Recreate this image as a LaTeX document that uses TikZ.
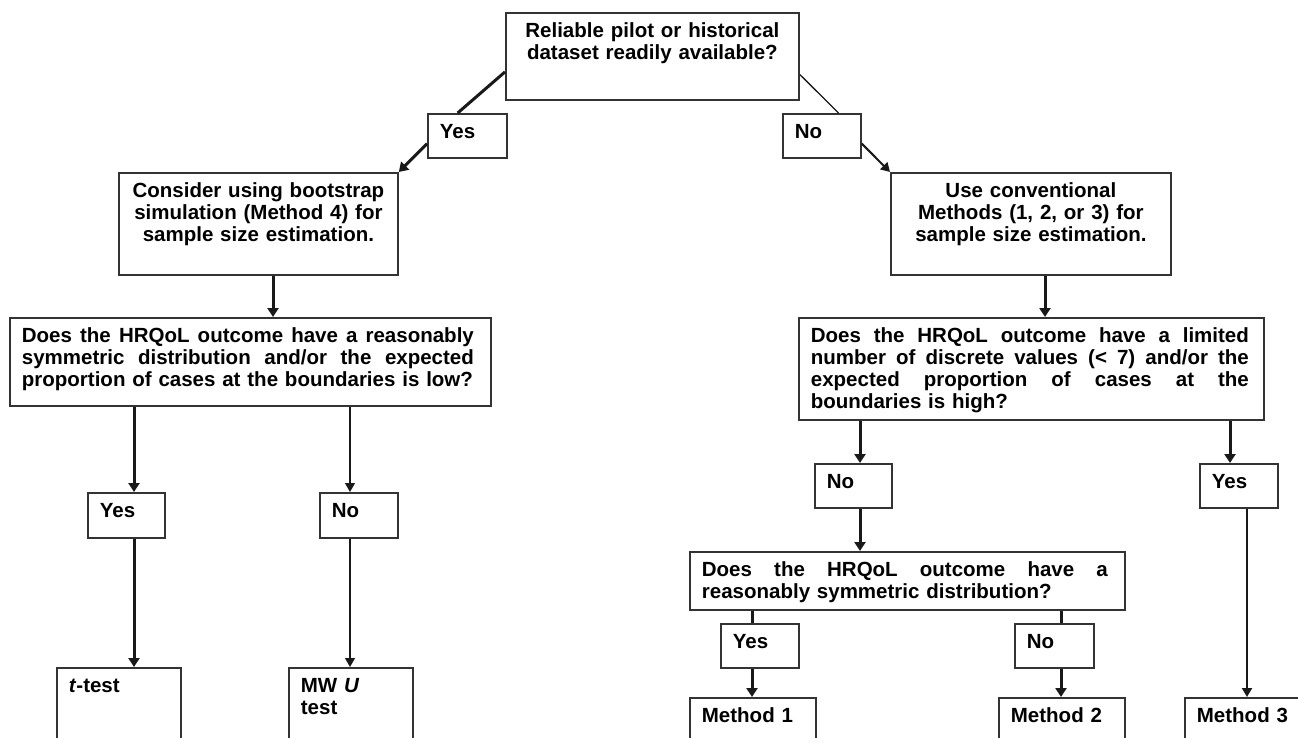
\documentclass[tikz,border=0pt]{standalone}
\usepackage{fontspec}
\setmainfont{Liberation Sans}
\usetikzlibrary{arrows.meta}
\newcommand{\fullline}[2]{\makebox[#1][s]{\spaceskip=0.278em plus 1fil\relax #2}}

\begin{document}
\begin{tikzpicture}[x=1pt,y=-1pt,
	box/.style={draw=\BOXCOLOR,line width=1.8pt,anchor=north west,inner xsep=12pt,inner ysep=0pt,
		text height=25pt,align=left,font=\fontsize{20.5pt}{22pt}\selectfont\bfseries},
	heavyline/.style={draw=\LINECOLOR,line width=3pt},
	lightline/.style={draw=\LINECOLOR,line width=1.3pt},
	heavyarrow/.style={heavyline,-{Triangle[length=9pt,width=11pt]}},
	midarrow/.style={draw=\LINECOLOR,line width=2pt,-{Triangle[length=9pt,width=10pt]}},
	lightarrow/.style={lightline,-{Triangle[length=9pt,width=10pt]}}]
    
\def\BOXCOLOR{black!80}
\def\LINECOLOR{black!90}
	\useasboundingbox (0,0) rectangle (1298,738);
	\clip (0,0) rectangle (1298,738);

	\node[box,align=center,text width=269pt,text depth=62pt] (pilot) at (505,12) {Reliable pilot or historical\\dataset readily available?};
	\node[box,text width=55pt,text depth=19pt] (yesA) at (427,113) {Yes};
	\node[box,text width=54pt,text depth=19pt] (noA) at (782,113) {No};
	\node[box,align=center,text width=255pt,text depth=77pt] (boot) at (118,172) {Consider using bootstrap\\simulation (Method 4) for\\sample size estimation.};
	\node[box,align=center,text width=256pt,text depth=77pt] (conv) at (890,172) {Use conventional\\Methods (1, 2, or 3) for\\sample size estimation.};
	\node[box,text width=457pt,text depth=63pt] (symL) at (9,317) {\fullline{452pt}{Does the HRQoL outcome have a reasonably}\\\fullline{452pt}{symmetric distribution and/or the expected}\\proportion of cases at the boundaries is low?};
	\node[box,text width=441pt,text depth=77pt] (discR) at (798,317) {\fullline{438pt}{Does the HRQoL outcome have a limited}\\\fullline{438pt}{number of discrete values (< 7) and/or the}\\\fullline{438pt}{expected proportion of cases at the}\\boundaries is high?};
	\node[box,text width=53pt,text depth=20pt] (yesL) at (87,492) {Yes};
	\node[box,text width=54pt,text depth=20pt] (noL) at (319,492) {No};
	\node[box,text width=53pt,text depth=19pt] (noR) at (814,463) {No};
	\node[box,text width=54pt,text depth=19pt] (yesR) at (1199,463) {Yes};
	\node[box,text width=411pt,text depth=33pt] (symM) at (689,551) {\fullline{406pt}{Does the HRQoL outcome have a}\\reasonably symmetric distribution?};
	\node[box,text width=54pt,text depth=19pt] (yesM) at (720,623) {Yes};
	\node[box,text width=55pt,text depth=19pt] (noM) at (1014,623) {No};
	\node[box,text width=100pt,text depth=100pt] (ttest) at (56,667) {\textit{t}-test};
	\node[box,text width=100pt,text depth=100pt] (mwu) at (288,667) {MW \textit{U}\\test};
	\node[box,text width=102pt,text depth=80pt] (meth1) at (689,697) {Method 1};
	\node[box,text width=102pt,text depth=80pt] (meth2) at (998,697) {Method 2};
	\node[box,text width=102pt,text depth=80pt] (meth3) at (1184,697) {Method 3};

	\coordinate (xboot) at (273,0);
	\coordinate (xconv) at (1045,0);
	\coordinate (xyesL) at (134,0);
	\coordinate (xnoL) at (350,0);
	\coordinate (xnoR) at (860,0);
	\coordinate (xyesR) at (1230,0);
	\coordinate (xmeth3) at (1247,0);
	\coordinate (xyesM) at (752,0);
	\coordinate (xnoM) at (1061,0);

	\draw[heavyline] (pilot.186) -- (yesA.113);
	\draw[heavyarrow] (yesA.191) -- (boot.north east);
	\draw[lightline] (pilot.-7) -- (noA.54);
	\draw[midarrow] (noA.-11) -- (conv.north west);
	\draw[heavyarrow] (boot.south -| xboot) -- (symL.north -| xboot);
	\draw[heavyarrow] (conv.south -| xconv) -- (discR.north -| xconv);
	\draw[heavyarrow] (symL.south -| xyesL) -- (yesL.north -| xyesL);
	\draw[heavyarrow] (yesL.south -| xyesL) -- (ttest.north -| xyesL);
	\draw[lightarrow] (symL.south -| xnoL) -- (noL.north -| xnoL);
	\draw[lightarrow] (noL.south -| xnoL) -- (mwu.north -| xnoL);
	\draw[heavyarrow] (discR.south -| xnoR) -- (noR.north -| xnoR);
	\draw[heavyarrow] (noR.south -| xnoR) -- (symM.north -| xnoR);
	\draw[heavyarrow] (discR.south -| xyesR) -- (yesR.north -| xyesR);
	\draw[midarrow] (yesR.south -| xmeth3) -- (meth3.north -| xmeth3);
	\draw[heavyline] (symM.south -| xyesM) -- (yesM.north -| xyesM);
	\draw[heavyarrow] (yesM.south -| xyesM) -- (meth1.north -| xyesM);
	\draw[heavyline] (symM.south -| xnoM) -- (noM.north -| xnoM);
	\draw[heavyarrow] (noM.south -| xnoM) -- (meth2.north -| xnoM);

\end{tikzpicture}
\end{document}
